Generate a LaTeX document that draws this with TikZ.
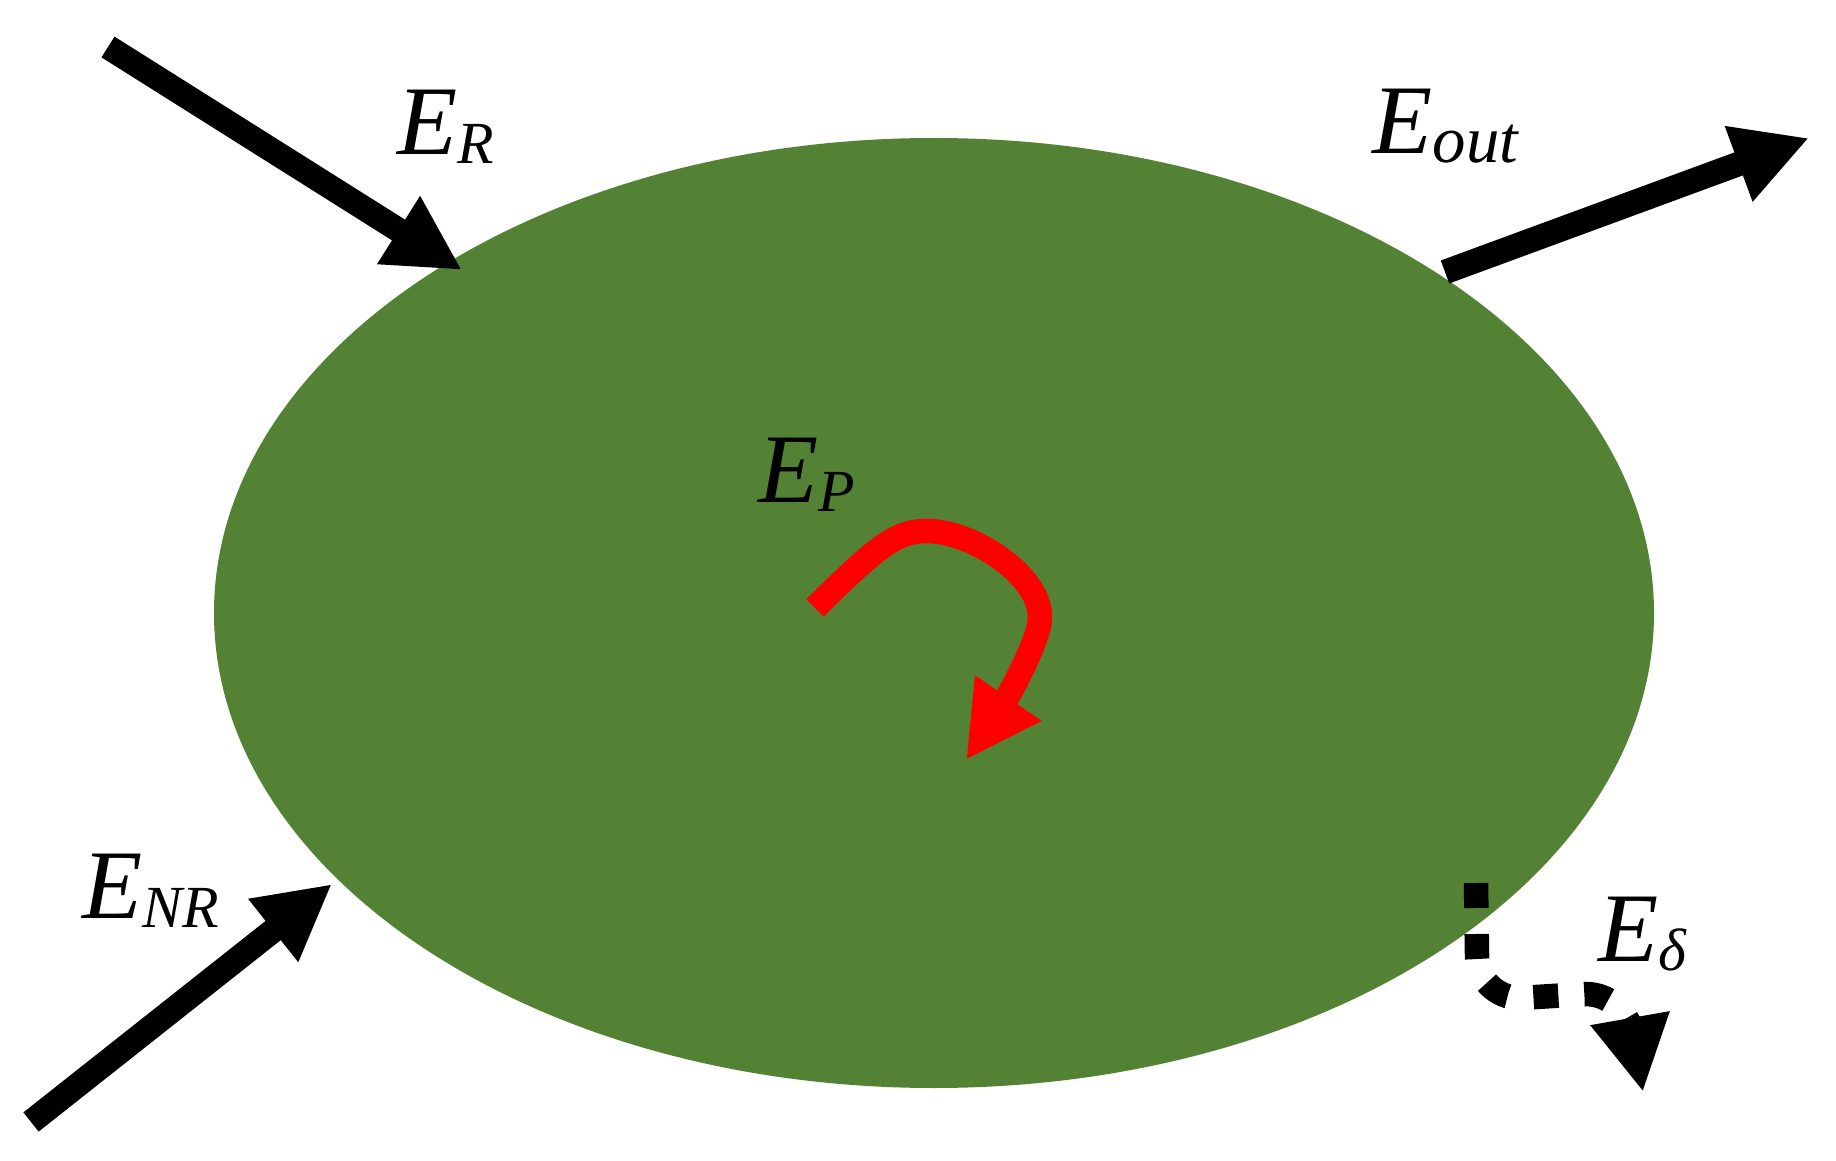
\documentclass[tikz,border=0pt]{standalone}
\usepackage{fontspec}
\setmainfont{Liberation Serif}
\usetikzlibrary{arrows.meta,shapes.geometric}

\definecolor{bodygreen}{RGB}{84,130,53}
\definecolor{flowred}{RGB}{255,0,0}

% energy label: big italic E with a lowered index
\newcommand{\enlabel}[2][17]{\fontsize{28}{32}\selectfont\textit{E}\raisebox{-0.09cm}{\fontsize{#1}{#1}\selectfont\textit{#2}}}

\tikzset{
  flow/.style={line width=2.45mm, -{Triangle[length=7.5mm,width=7.5mm]}},
  lossflow/.style={flow, dash pattern=on 2.5mm off 2.6mm},
  enname/.style={anchor=base west, inner sep=0pt}
}

\begin{document}
\begin{tikzpicture}
\useasboundingbox (0,0) rectangle (18.36,11.6);

\node[ellipse, fill=bodygreen, inner sep=0pt, minimum width=14.4cm, minimum height=9.5cm] (body) at (9.34,5.47) {};

\coordinate (rin)   at (1.08,11.13);
\coordinate (rtip)  at (4.62,8.90);
\coordinate (oin)   at (14.45,8.88);
\coordinate (otip)  at (18.09,10.22);
\coordinate (nrin)  at (0.31,0.38);
\coordinate (nrtip) at (3.32,2.76);
\coordinate (pin)   at (8.15,5.52);
\coordinate (ptop)  at (9.27,6.29);
\coordinate (pright) at (10.40,5.43);
\coordinate (ptip)  at (9.66,4.00);
\coordinate (din)   at (14.76,2.77);
\coordinate (dbend) at (14.77,2.05);
\coordinate (dlow)  at (15.2,1.62);
\coordinate (dright) at (15.85,1.66);
\coordinate (dtip)  at (16.43,0.68);

\draw[flow] (rin) -- (rtip);
\draw[flow] (oin) -- (otip);
\draw[flow] (nrin) -- (nrtip);
\draw[flow, flowred] (pin) .. controls (8.8,6.17) and (8.98,6.29) .. (ptop)
  .. controls (9.72,6.29) and (10.40,5.85) .. (pright)
  .. controls (10.40,5.15) and (9.94,4.41) .. (ptip);
\draw[lossflow] (din) -- (dbend) to[out=-90,in=180] (dlow) -- (dright) to[out=0,in=100] (dtip);

\node[enname] (er)  at (3.97,10.05) {\enlabel{R}};
\node[enname] (eout) at (13.72,10.06) {\enlabel[19]{out}};
\node[enname] (ep)  at (7.58,6.57) {\enlabel{P}};
\node[enname] (enr) at (0.82,2.42) {\enlabel{NR}};
\node[enname] (ed)  at (15.98,1.99) {\enlabel{δ}};
% \node at (body) {};
\end{tikzpicture}
\end{document}
